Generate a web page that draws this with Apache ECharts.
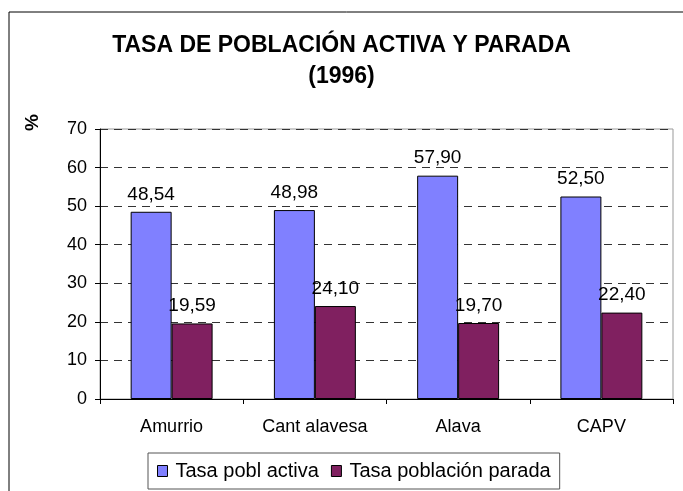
<!DOCTYPE html>
<html><head><meta charset="utf-8">
<script src="https://cdn.jsdelivr.net/npm/echarts@6/dist/echarts.min.js"></script>
<style>html,body{margin:0;padding:0;background:#fff}#c{width:683px;height:491px}</style>
</head><body><div id="c"></div>
<script>
var categories = ['Amurrio', 'Cant alavesa', 'Alava', 'CAPV'];
var activa = [48.54, 48.98, 57.90, 52.50];
var parada = [19.59, 24.10, 19.70, 22.40];
var seriesNames = ['Tasa pobl activa', 'Tasa población parada'];
var titleLines = ['TASA DE POBLACIÓN ACTIVA Y PARADA', '(1996)'];
var yAxisName = '%';

var font = 'Liberation Sans, Arial, sans-serif';
var chart = echarts.init(document.getElementById('c'));
function fmt(p){ return p.value.toFixed(2).replace('.', ','); }
chart.setOption({
  animation: false,
  title: {
    text: titleLines.join('\n'),
    left: 'center', top: 25,
    textStyle: {fontFamily: font, fontSize: 23, fontWeight: 'bold', color: '#000', lineHeight: 31}
  },
  graphic: [
    {type: 'rect', shape: {x: 9, y: 12, width: 800, height: 600}, style: {fill: 'none', stroke: '#000', lineWidth: 1}, silent: true},
    {type: 'rect', shape: {x: 100, y: 129, width: 573, height: 270}, style: {fill: 'none', stroke: '#999', lineWidth: 1}, silent: true, z: 0},
    {type: 'text', x: 33, y: 131, rotation: Math.PI / 2, style: {text: yAxisName, font: 'bold 19px ' + font, fill: '#000', textAlign: 'left', textVerticalAlign: 'middle'}}
  ],
  legend: {
    bottom: 2, left: 148,
    data: seriesNames,
    icon: 'rect', itemWidth: 10, itemHeight: 11, itemGap: 12,
    itemStyle: {borderColor: '#000', borderWidth: 1},
    borderColor: '#555', borderWidth: 1, padding: [8, 9, 8, 9],
    textStyle: {fontFamily: font, fontSize: 20, color: '#000', padding: [0, 0, 0, 3]}
  },
  grid: {left: 100, right: 10, top: 129, bottom: 92},
  xAxis: {
    type: 'category', data: categories,
    axisLine: {lineStyle: {color: '#000'}},
    axisTick: {show: true, length: 5, lineStyle: {color: '#000'}},
    axisLabel: {fontFamily: font, fontSize: 18, color: '#000', margin: 19}
  },
  yAxis: {
    type: 'value', min: 0, max: 70, interval: 10,
    axisLine: {show: true, lineStyle: {color: '#000'}},
    axisTick: {show: true, length: 5, lineStyle: {color: '#000'}},
    axisLabel: {fontFamily: font, fontSize: 18, color: '#000', margin: 13},
    splitLine: {show: true, lineStyle: {color: '#333', type: [8, 6], width: 1}}
  },
  series: [
    {name: seriesNames[0], type: 'bar', data: activa, barWidth: '28.6%', barGap: '0%',
     itemStyle: {color: '#8080ff', borderColor: '#000', borderWidth: 1},
     label: {show: true, position: 'top', distance: 8, formatter: fmt, fontFamily: font, fontSize: 19, color: '#000'}},
    {name: seriesNames[1], type: 'bar', data: parada, barWidth: '28.6%',
     itemStyle: {color: '#802060', borderColor: '#000', borderWidth: 1},
     label: {show: true, position: 'top', distance: 8, formatter: fmt, fontFamily: font, fontSize: 19, color: '#000'}}
  ]
});
</script></body></html>
